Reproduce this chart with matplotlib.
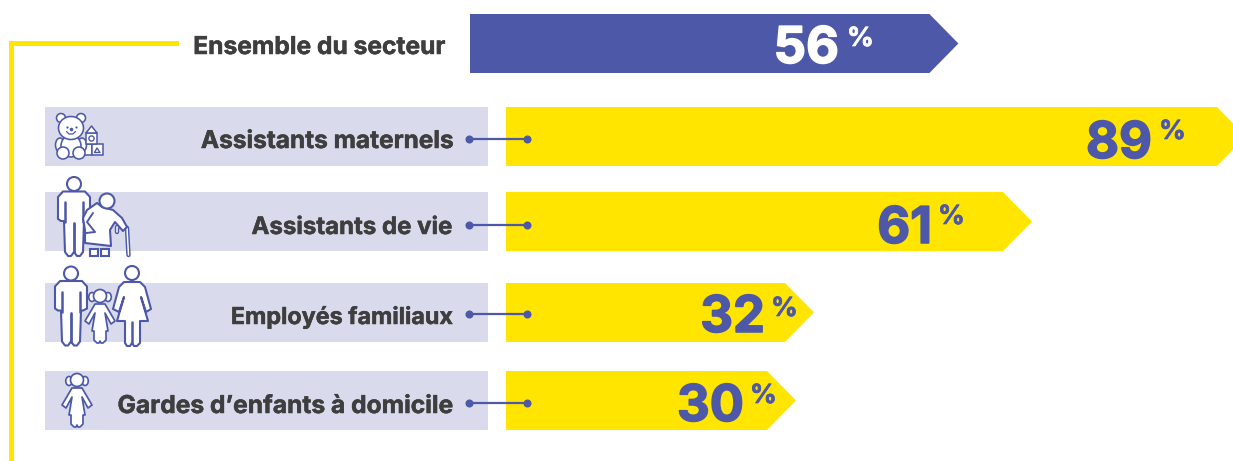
import numpy as np
import matplotlib
matplotlib.use("Agg")
import matplotlib.pyplot as plt
import matplotlib.patheffects as pe
from matplotlib.patches import Polygon, Circle, Ellipse, Rectangle

# ---- data ----
categories = ["Assistants maternels", "Assistants de vie", "Employés familiaux", "Gardes d’enfants à domicile"]
values = [89, 61, 32, 30]
total_label = "Ensemble du secteur"
total_value = [56]

# ---- style / layout (pixels) ----
W, H = 1233, 461
BLUE, YELLOW, LILAC, DARK = "#4D59A8", "#FFE500", "#D9DAEC", "#3E3E3E"
FONT = "Inter"
row_tops = [107, 192, 283, 371]
ROW_H = 59
link_y = [139, 225, 314, 403]
label_base = [148, 234, 324, 413]
label_size = [17.6, 17.3, 16.8, 17.7]
num_right = [1152, 932, 765, 744]
num_base = [158, 243, 332, 421]
pct_left = [1159, 938, 771, 750]
pct_base = [139, 224, 316, 403]
HEAD = 29
NUM_SIZE, PCT_SIZE = 36.5, 19

# The source draws bars on a slightly non-linear scale: value -> pixel length
scale_v = [0, 30, 32, 61, 89, 100]
scale_px = [0, 261, 279, 497, 711, 799]
def fwd(v):
    return np.interp(v, scale_v, scale_px, left=-1, right=2000)
def inv(p):
    return np.interp(p, scale_px, scale_v)

fig = plt.figure(figsize=(W / 100, H / 100), dpi=100, facecolor="white")

def pixel_axes(z):
    ax = fig.add_axes([0, 0, 1, 1], zorder=z)
    ax.set_xlim(0, W); ax.set_ylim(H, 0); ax.axis("off")
    ax.patch.set_alpha(0)
    return ax

def bar_axes(left_px, z):
    right_px = left_px + 790
    ax = fig.add_axes([left_px / W, 0, (right_px - left_px) / W, 1], zorder=z)
    ax.set_xscale("function", functions=(fwd, inv))
    ax.set_xlim(0, inv(790)); ax.set_ylim(H, 0); ax.axis("off")
    ax.patch.set_alpha(0)
    return ax

bg = pixel_axes(0)
bars = bar_axes(506, 1)
top = bar_axes(470, 1)
fg = pixel_axes(2)

def arrow(ax, v, y0, color):
    tip = inv(fwd(v) + HEAD)
    ax.add_patch(Polygon([(0, y0), (v, y0), (tip, y0 + ROW_H / 2), (v, y0 + ROW_H), (0, y0 + ROW_H)],
                         closed=True, fc=color, ec="none"))

def heavy(x, y, s, color, size, stroke, ha):
    t = fg.text(x, y, s, ha=ha, va="baseline", fontsize=size, fontweight="bold", color=color, family=FONT)
    t.set_path_effects([pe.withStroke(linewidth=stroke, foreground=color)])
    return t

# yellow bracket
bg.add_patch(Rectangle((9, 41), 170, 5, fc=YELLOW, ec="none"))
bg.add_patch(Rectangle((9, 41), 5.2, H - 41, fc=YELLOW, ec="none"))

# top bar
arrow(top, total_value[0], 14, BLUE)
heavy(445, 54, total_label, DARK, 17.7, 0.35, "right")
heavy(839, 63, str(total_value[0]), "white", NUM_SIZE, 1.1, "right")
heavy(847, 46, "%", "white", PCT_SIZE, 0.5, "left")

# rows
for i, (c, v) in enumerate(zip(categories, values)):
    bg.add_patch(Rectangle((45, row_tops[i]), 443, ROW_H, fc=LILAC, ec="none"))
    arrow(bars, v, row_tops[i], YELLOW)
    fg.plot([469, 527], [link_y[i]] * 2, color=BLUE, lw=1.6, solid_capstyle="butt")
    fg.plot([469, 527], [link_y[i]] * 2, "o", color=BLUE, ms=5.8, mew=0)
    heavy(453, label_base[i], c, DARK, label_size[i], 0.35, "right")
    heavy(num_right[i], num_base[i], str(v), BLUE, NUM_SIZE, 1.1, "right")
    heavy(pct_left[i], pct_base[i], "%", BLUE, PCT_SIZE, 0.5, "left")

# ---- icons ----
LW = 1.5
def shape(pts, dx=0, dy=0, fc="white", lw=LW, z=3):
    fg.add_patch(Polygon([(x + dx, y + dy) for x, y in pts], closed=True, fc=fc, ec=BLUE, lw=lw, joinstyle="round", zorder=z))
def line(pts, dx=0, dy=0, lw=LW, z=4, color=BLUE):
    fg.plot([p[0] + dx for p in pts], [p[1] + dy for p in pts], color=color, lw=lw, zorder=z,
            solid_capstyle="round", solid_joinstyle="round")
def circ(x, y, r, fc="white", lw=LW, z=4):
    fg.add_patch(Circle((x, y), r, fc=fc, ec=BLUE, lw=lw, zorder=z))

def man(dx, dy):
    circ(74 + dx, 184 + dy, 7)
    shape([(63, 191.5), (85, 191.5), (90, 197), (90, 219), (86, 221), (84, 221), (83, 252), (80, 256), (77, 256),
           (74, 252), (71, 256), (68, 256), (65, 252), (64, 221), (61, 221), (58, 219), (58, 197)], dx, dy)
    line([(65, 202), (65, 222)], dx, dy, lw=1.8)
    line([(83, 202), (83, 222)], dx, dy, lw=1.8)
    line([(74, 223), (74, 252)], dx, dy, lw=2.0)

def girl(cx, cy):
    for s in (-1, 1):
        fg.add_patch(Ellipse((cx + s * 8, cy + 1), 6.5, 9, fc="white", ec=BLUE, lw=1.2, zorder=3))
    shape([(-5, 8), (5, 8), (15, 25), (11, 28), (5, 17), (8, 35), (6, 35), (6, 44), (3, 47), (1, 47), (0, 45),
           (-1, 47), (-3, 47), (-6, 44), (-6, 35), (-8, 35), (-5, 17), (-11, 28), (-15, 25)], cx, cy, lw=1.25)
    circ(cx, cy, 6.5, lw=1.25)

# bear
for x, y, r in [(61, 118, 4.5), (81, 118, 4.5)]:
    circ(x, y, r, fc="white", lw=1.15, z=3)
for x, y in [(60, 145), (82, 145)]:
    fg.add_patch(Ellipse((x, y), 9, 14, fc="white", ec=BLUE, lw=1.15, zorder=3))
fg.add_patch(Ellipse((71, 146), 20, 22, fc="white", ec=BLUE, lw=1.15, zorder=3))
circ(63, 153, 6, lw=1.15); circ(79, 153, 6, lw=1.15)
fg.add_patch(Ellipse((71, 128), 25, 23, fc="white", ec=BLUE, lw=1.15, zorder=4))
for x in (66.5, 75.5):
    fg.plot([x], [127], "o", color=BLUE, ms=1.6, mew=0, zorder=5)
fg.plot([71], [129], "o", color=BLUE, ms=2.6, mew=0, zorder=5)
line([(66.5, 131.5), (69, 134), (73, 134), (75.5, 131.5)], lw=0.9, z=5)
# blocks
fg.add_patch(Rectangle((84, 144), 8, 11, fc="white", ec=BLUE, lw=1.1, zorder=2.5))
fg.add_patch(Rectangle((92, 144), 11, 11, fc="white", ec=BLUE, lw=1.1, zorder=3))
fg.add_patch(Rectangle((86, 133), 11, 11, fc="white", ec=BLUE, lw=1.1, zorder=3))
shape([(86, 133), (91.5, 126), (97, 133)], lw=1.1)
circ(91.5, 138.5, 2.6, lw=1.0)
shape([(94.5, 152.5), (97, 148), (100, 152.5)], lw=1.0)

# man + old woman
man(0, 0)
circ(107, 201, 7.5, z=6)
shape([(97, 203), (102, 207), (113, 210), (122, 218), (127, 227), (123, 231), (115, 222), (110, 230), (111, 246),
       (85, 243), (85, 230), (83, 218), (87, 210)], z=5)
line([(93, 213), (87, 222), (95, 232), (86, 233)], lw=1.4, z=6)
line([(117, 232), (117, 227), (122, 225), (127, 228), (128.5, 255)], lw=3.2, z=4)
line([(117, 232), (117, 227), (122, 225), (127, 228), (128.5, 255)], lw=1.1, z=4.1, color="white")
fg.add_patch(Rectangle((90, 249), 8, 7, fc="white", ec=BLUE, lw=LW, zorder=5))
fg.add_patch(Rectangle((101, 249), 8, 7, fc="white", ec=BLUE, lw=LW, zorder=5))

# family
man(-3, 89.5)
girl(100, 296)
circ(132, 273, 7)
shape([(124, 282), (140, 282), (145, 287), (151, 309), (146, 312), (141, 297), (148, 321), (140, 321), (140, 343),
       (137, 346), (134, 346), (132, 343), (130, 346), (127, 346), (125, 343), (125, 321), (117, 321), (124, 297),
       (119, 312), (113, 309), (119, 287)])
line([(132, 322), (132, 343)], lw=1.8)

# child
girl(77, 380)

fig.savefig("out.png", dpi=100)
